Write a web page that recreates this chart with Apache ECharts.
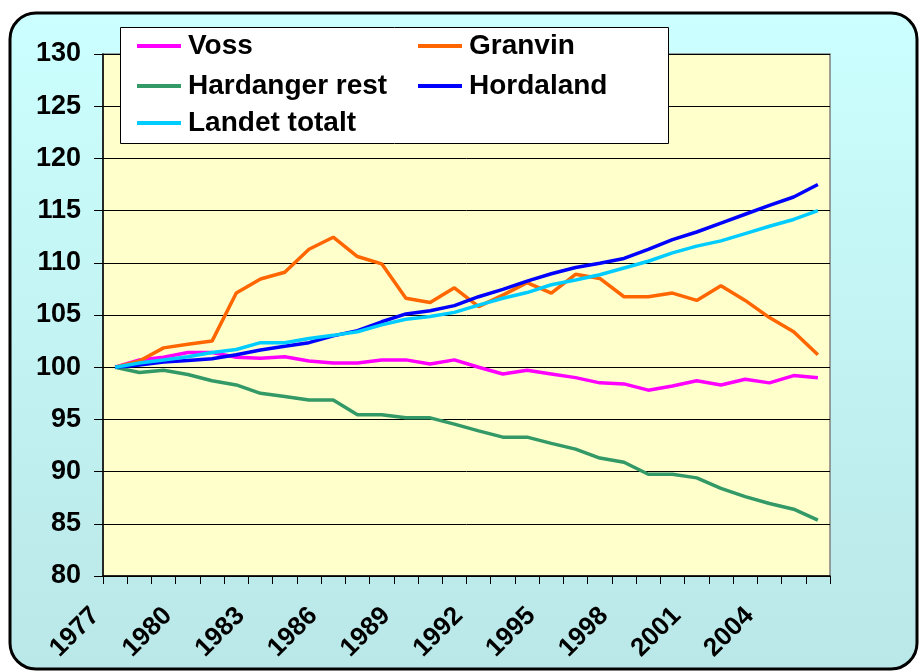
<!DOCTYPE html>
<html>
<head>
<meta charset="utf-8">
<script src="https://cdn.jsdelivr.net/npm/echarts@6/dist/echarts.min.js"></script>
<style>
  html, body { margin: 0; padding: 0; background: #fff; }
  #chart { width: 923px; height: 672px; }
</style>
</head>
<body>
<div id="chart"></div>
<script>
// år (indeks 1977 = 100)
var years = [];
for (var y = 1977; y <= 2006; y++) years.push(String(y));

var voss = [100, 100.7, 100.95, 101.4, 101.4, 100.95, 100.85, 101.0, 100.6, 100.4,
  100.4, 100.7, 100.7, 100.3, 100.7, 100.0, 99.35, 99.7, 99.35, 99.0,
  98.5, 98.4, 97.8, 98.2, 98.7, 98.3, 98.85, 98.5, 99.2, 99.0];
var granvin = [100, 100.6, 101.85, 102.2, 102.5, 107.1, 108.45, 109.1, 111.3, 112.45,
  110.6, 109.9, 106.6, 106.2, 107.6, 105.8, 106.9, 108.1, 107.1, 108.9,
  108.5, 106.75, 106.75, 107.1, 106.4, 107.8, 106.4, 104.75, 103.4, 101.2];
var hardanger = [100, 99.5, 99.7, 99.3, 98.7, 98.3, 97.5, 97.2, 96.85, 96.85,
  95.45, 95.45, 95.15, 95.15, 94.55, 93.9, 93.3, 93.3, 92.7, 92.15,
  91.3, 90.9, 89.75, 89.75, 89.4, 88.4, 87.6, 86.95, 86.4, 85.35];
var hordaland = [100, 100.2, 100.5, 100.65, 100.8, 101.2, 101.65, 102.0, 102.35, 103.0,
  103.5, 104.35, 105.1, 105.4, 105.9, 106.75, 107.45, 108.25, 108.95, 109.55,
  109.95, 110.42, 111.28, 112.22, 112.95, 113.8, 114.65, 115.5, 116.3, 117.5];
var landet = [100, 100.4, 100.7, 101.0, 101.4, 101.7, 102.35, 102.35, 102.75, 103.05,
  103.4, 104.05, 104.6, 104.85, 105.25, 105.95, 106.6, 107.15, 107.9, 108.35,
  108.85, 109.5, 110.15, 110.95, 111.6, 112.1, 112.8, 113.5, 114.15, 115.0];

var names = ['Voss', 'Granvin', 'Hardanger rest', 'Hordaland', 'Landet totalt'];
var colors = ['#FF00FF', '#FF6600', '#339966', '#0000FF', '#00CCFF'];
var values = [voss, granvin, hardanger, hordaland, landet];

var font = '"Liberation Sans", Arial, sans-serif';
var chart = echarts.init(document.getElementById('chart'));

// legend items placed one by one so the two columns line up
var legendPos = [[137, 32], [418, 32], [137, 72], [418, 72], [137, 109]];
var legends = names.map(function (n, i) {
  return {
    data: [n],
    left: legendPos[i][0],
    top: legendPos[i][1],
    z: 20,
    padding: 0,
    icon: 'rect',
    itemWidth: 44,
    itemHeight: 4,
    itemGap: 0,
    textStyle: { color: '#000', fontFamily: font, fontWeight: 'bold', fontSize: 28, lineHeight: 28, padding: [0, 0, 0, 2] }
  };
});

var option = {
  animation: false,
  color: colors,
  graphic: [
    {
      type: 'rect', z: -10, silent: true,
      shape: { x: 10, y: 13, width: 907, height: 656, r: 26 },
      style: {
        fill: new echarts.graphic.LinearGradient(0, 0, 0, 1, [
          { offset: 0, color: '#CCFFFF' },
          { offset: 1, color: '#BAE7E7' }
        ]),
        stroke: '#000', lineWidth: 3
      }
    },
    {
      type: 'rect', z: 10, silent: true,
      shape: { x: 120.5, y: 27.5, width: 548, height: 116 },
      style: { fill: '#fff', stroke: '#000', lineWidth: 1 }
    }
  ],
  legend: legends,
  grid: {
    left: 103, right: 93, top: 54, bottom: 96,
    show: true, backgroundColor: '#FFFFCC', borderColor: '#808080', borderWidth: 1.5
  },
  xAxis: {
    type: 'category',
    data: years,
    boundaryGap: true,
    axisLine: { lineStyle: { color: '#000', width: 1.5 } },
    axisTick: { show: true, interval: 0, length: 8, lineStyle: { color: '#000', width: 1 } },
    axisLabel: {
      interval: 2, rotate: 45, margin: 16,
      color: '#000', fontFamily: font, fontWeight: 'bold', fontSize: 26,
      padding: [0, 28, 0, 0]
    },
    splitLine: { show: false }
  },
  yAxis: {
    type: 'value', min: 80, max: 130, interval: 5,
    axisLine: { show: true, lineStyle: { color: '#000', width: 1.5 } },
    axisTick: { show: true, length: 9, lineStyle: { color: '#000' } },
    axisLabel: { margin: 22, color: '#000', fontFamily: font, fontWeight: 'bold', fontSize: 27 },
    splitLine: { show: true, lineStyle: { color: '#000', width: 1 } }
  },
  series: names.map(function (n, i) {
    return {
      name: n, type: 'line', data: values[i],
      symbol: 'none', smooth: false,
      lineStyle: { width: 3.5, color: colors[i] },
      itemStyle: { color: colors[i] },
      z: 2 + i
    };
  })
};
chart.setOption(option);
</script>
</body>
</html>
